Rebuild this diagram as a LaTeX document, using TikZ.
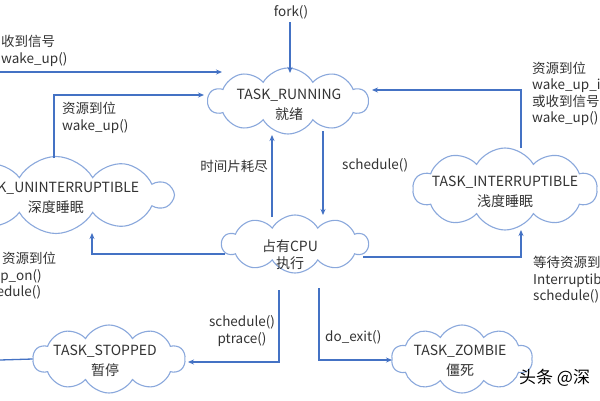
\documentclass[tikz,border=0pt]{standalone}
\usepackage{fontspec}
\newfontfamily\cjk{Noto Sans CJK SC}
\usetikzlibrary{shapes.symbols,arrows.meta,calc}
\definecolor{linec}{HTML}{4472C4}
\definecolor{cloudc}{HTML}{8AA8DC}
\definecolor{txt}{HTML}{333333}
\tikzset{
  state/.style={cloud, cloud puffs=10, cloud puff arc=120, draw=cloudc, line width=1.1pt, inner sep=0pt},
  stext/.style={align=center, inner sep=0pt, font=\cjk\fontsize{14}{20}\selectfont, text=txt},
  conn/.style={draw=linec, line width=1.3pt, -{Stealth[length=6pt,width=5pt]}},
  plain/.style={draw=linec, line width=1.3pt},
  lbl/.style={font=\cjk\fontsize{13.5}{16.5}\selectfont, text=txt, inner sep=0pt, align=left},
}
\begin{document}
\begin{tikzpicture}[x=1pt,y=-1pt]
\useasboundingbox (0,0) rectangle (600,400);
\clip (0,0) rectangle (600,400);
\fill[white] (0,0) rectangle (600,400);

% states (cloud outlines)
\node[state, minimum width=160pt, minimum height=66pt] (run) at (288,101) {};
\node[state, minimum width=232pt, minimum height=77pt] (unint) at (56,195) {};
\node[state, minimum width=184pt, minimum height=82pt] (int) at (505,189) {};
\node[state, minimum width=146pt, minimum height=58pt] (cpu) at (295,244) {};
\node[state, minimum width=152pt, minimum height=68pt] (stop) at (109,359) {};
\node[state, minimum width=141pt, minimum height=68pt] (zomb) at (462,359) {};

% state texts
\node[stext] (runT) at (289,105) {TASK\_RUNNING\\就绪};
\node[stext] (unintT) at (56,198) {TASK\_UNINTERRUPTIBLE\\深度睡眠};
\node[stext] (intT) at (505,191.5) {TASK\_INTERRUPTIBLE\\浅度睡眠};
\node[stext, font=\cjk\fontsize{14}{17}\selectfont] (cpuT) at (290,255) {占有CPU\\执行};
\node[stext] (stopT) at (105,361) {TASK\_STOPPED\\暂停};
\node[stext] (zombT) at (460,361) {TASK\_ZOMBIE\\僵死};

% free ends
\coordinate (lt) at (0,72);
\coordinate (lf) at (0,360);

% labels
\node[lbl] (fork) at (291,12) {fork()};
\node[lbl, anchor=west] (l1) at (1,51) {收到信号\\wake\_up()};
\node[lbl, anchor=west] (l2) at (62,118) {资源到位\\wake\_up()};
\node[lbl, anchor=west] (l3) at (532,94) {资源到位\\wake\_up\_interruptible()\\或收到信号\\wake\_up()};
\node[lbl, anchor=west] (l4) at (533,280) {等待资源到位\\Interruptible\_sleep\_on()\\schedule()};
\node[lbl, anchor=west] (l5) at (-25,276) {\hspace*{27pt}资源到位\\sleep\_on()\\schedule()};
\node[lbl, anchor=east] (l6) at (268,166) {时间片耗尽};
\node[lbl, anchor=west] (l7) at (342,165) {schedule()};
\node[lbl, align=center] (l8) at (242,331) {schedule()\\ptrace()};
\node[lbl, anchor=west] (l9) at (325,337) {do\_exit()};
\node[font=\cjk\fontsize{17}{20}\selectfont, text=black, anchor=west, inner sep=0pt] (wm) at (519,378) {头条 @深};

% connectors
\draw[conn] ($(fork.south -| run.north)+(2,3)$) -- ($(run.center)+(2,-28)$);
\draw[conn] (lt) -- ($(run.center)+(-66,-29)$);
\draw[conn] ($(unint.center)+(-2,-37)$) |- ($(run.center)+(-84,-6)$);
\draw[conn] ($(int.center)+(16,-41)$) |- ($(run.center)+(84,-11)$);
\draw[conn] ($(run.center)+(35,30)$) -- ($(cpu.center)+(28,-29)$);
\draw[conn] ($(cpu.center)+(-23,-27)$) -- ($(run.center)+(-16,34)$);
\draw[conn] ($(cpu.center)+(-70,10)$) -| ($(unint.center)+(36,38)$);
\draw[conn] ($(cpu.center)+(68,13)$) -| ($(int.center)+(16,41)$);
\draw[conn] ($(cpu.center)+(-16,46)$) |- ($(stop.center)+(79,3)$);
\draw[conn] ($(cpu.center)+(24,44)$) |- ($(zomb.center)+(-70,1)$);
\draw[plain] (stop.west) -- (lf);
\end{tikzpicture}
\end{document}
